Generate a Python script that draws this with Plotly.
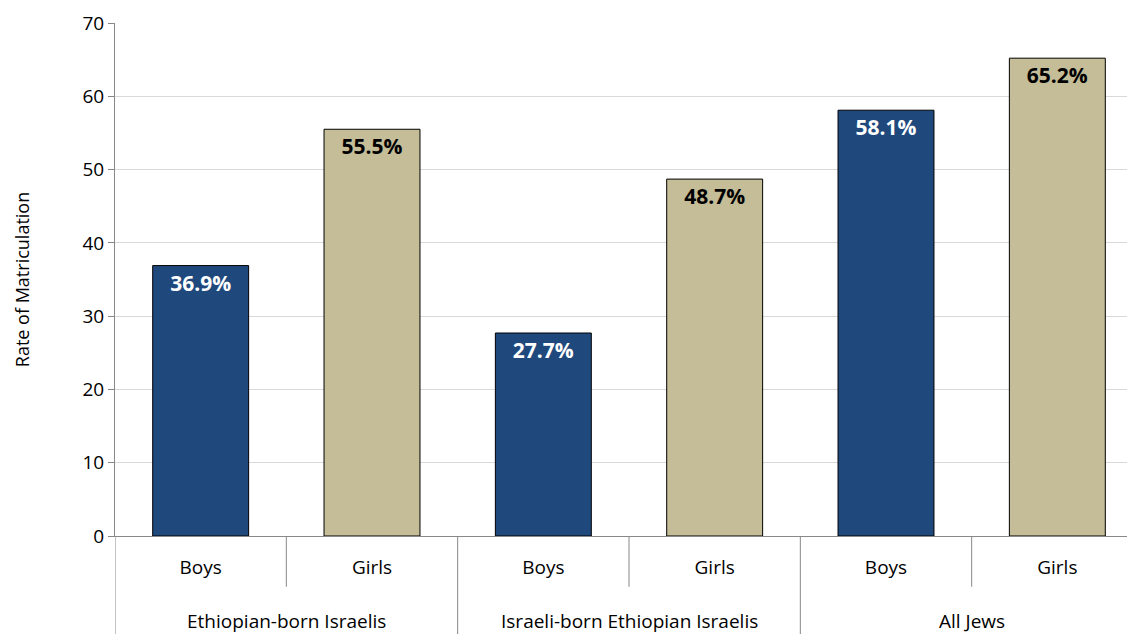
import plotly.graph_objects as go

groups = ["Ethiopian-born Israelis", "Israeli-born Ethiopian Israelis", "All Jews"]
subs = ["Boys", "Girls"]
boys = [36.9, 27.7, 58.1]
girls = [55.5, 48.7, 65.2]

pos = list(range(6))
fig = go.Figure()
fig.add_trace(go.Bar(
    x=pos[0::2], y=boys, marker=dict(color="#1F497D", line=dict(color="black", width=1)),
    texttemplate="<br>%{y:.1f}%", textposition="inside", insidetextanchor="end",
    textfont=dict(color="white", size=21, family="Open Sans", weight="bold"),
    width=0.56,
))
fig.add_trace(go.Bar(
    x=pos[1::2], y=girls, marker=dict(color="#C4BD97", line=dict(color="black", width=1)),
    texttemplate="<br>%{y:.1f}%", textposition="inside", insidetextanchor="end",
    textfont=dict(color="black", size=21, family="Open Sans", weight="bold"),
    width=0.56,
))

shapes = []
for i in range(7):
    xv = i - 0.5
    y1 = -0.194 if i % 2 == 0 else -0.099
    shapes.append(dict(type="line", xref="x", yref="paper", x0=xv, x1=xv, y0=0, y1=y1,
                       line=dict(color="#888888", width=1)))
annotations = []
for g, name in enumerate(groups):
    annotations.append(dict(x=2 * g + 0.5, xref="x", y=-0.165, yref="paper", yanchor="middle",
                            text=name, showarrow=False,
                            font=dict(size=19, family="Open Sans", color="black")))

fig.update_layout(
    width=1135, height=634, showlegend=False, barmode="overlay",
    plot_bgcolor="white", paper_bgcolor="white",
    margin=dict(l=107, r=0, t=15, b=106),
    font=dict(family="Open Sans", size=18, color="black"),
    shapes=shapes, annotations=annotations,
    xaxis=dict(range=[-0.5, 5.5], tickmode="array", tickvals=pos, ticktext=subs * 3,
               showgrid=False, showline=True, linecolor="#888888", ticks="",
               ticklabelstandoff=14, tickfont=dict(size=19), automargin=False),
    yaxis=dict(range=[0, 70], dtick=10, ticklabeloverflow="allow",
               showgrid=True, gridcolor="#d9d9d9", automargin=False,
               showline=True, linecolor="#888888", ticks="outside", ticklen=6, tickcolor="#888888",
               title=dict(text="Rate of Matriculation", font=dict(size=18), standoff=48),
               tickfont=dict(size=19), zeroline=False),
)
fig.write_html("out.html")
